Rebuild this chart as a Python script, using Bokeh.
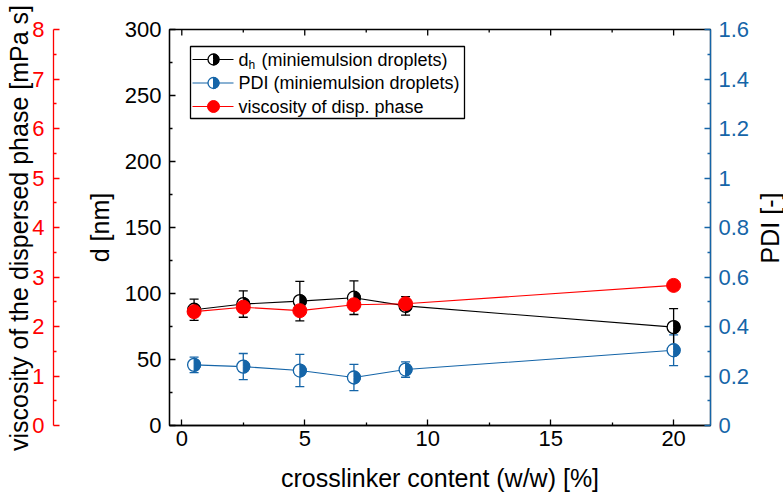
import math
from bokeh.plotting import figure
from bokeh.models import (Range1d, LinearAxis, FixedTicker, ColumnDataSource,
                          Whisker, TeeHead, Label)
from bokeh.core.properties import value
from bokeh.embed import file_html
from bokeh.resources import INLINE

# ---------------- data ----------------
X = [0.5, 2.5, 4.8, 7.0, 9.1, 20.0]
D_H = [87.7, 92.0, 94.2, 96.8, 90.6, 74.5]
D_H_ERR = [8.0, 10.0, 15.0, 12.7, 7.0, 14.0]
PDI = [0.245, 0.238, 0.222, 0.194, 0.226, 0.304]
PDI_ERR = [0.031, 0.053, 0.065, 0.053, 0.031, 0.062]
VISC = [2.30, 2.39, 2.32, 2.44, 2.46, 2.83]
VISC_ERR = [0.05, 0.05, 0.05, 0.05, 0.05, 0.10]

X_TICKS = [0, 5, 10, 15, 20]
X_MINOR = [2.5, 7.5, 12.5, 17.5]
D_TICKS = [0, 50, 100, 150, 200, 250, 300]
D_MINOR = [25, 75, 125, 175, 225, 275]
VISC_TICKS = [0, 1, 2, 3, 4, 5, 6, 7, 8]
VISC_MINOR = [0.5, 1.5, 2.5, 3.5, 4.5, 5.5, 6.5, 7.5]
PDI_TICKS = [0, 0.2, 0.4, 0.6, 0.8, 1.0, 1.2, 1.4, 1.6]
PDI_LABELS = ["0", "0.2", "0.4", "0.6", "0.8", "1", "1.2", "1.4", "1.6"]
PDI_MINOR = [0.1, 0.3, 0.5, 0.7, 0.9, 1.1, 1.3, 1.5]

X_LABEL = "crosslinker content (w/w) [%]"
D_LABEL = "d [nm]"
VISC_LABEL = "viscosity of the dispersed phase [mPa s]"
PDI_LABEL = "PDI [-]"
LEGEND_LABELS = ["d", "h", "(miniemulsion droplets)",
                 "PDI (miniemulsion droplets)", "viscosity of disp. phase"]

# ---------------- styles ----------------
FONT = "Liberation Sans"
BLACK = "#000000"
BLUE = "#1565A8"
RED = "#FF0000"
TICK_FS = "22px"
LABEL_FS = "25px"
LEG_FS = "18px"

X_MIN, X_MAX = -0.5, 21.5
D_MAX, PDI_MAX, VISC_MAX = 300, 1.6, 8
W, H = 783, 498

# frame geometry (pixels) used for placing legend / side labels / top ticks
FL, FR, FT, FB = 169, 710, 29, 425


def px_x(px):
    return X_MIN + (px - FL) / (FR - FL) * (X_MAX - X_MIN)


def px_y(py):
    return (FB - py) / (FB - FT) * D_MAX


def px_dy(n):
    return n / (FB - FT) * D_MAX


p = figure(width=W, height=H, x_range=Range1d(X_MIN, X_MAX),
           y_range=Range1d(0, D_MAX), output_backend="svg",
           toolbar_location=None, min_border_left=FL, min_border_right=W - FR,
           min_border_top=FT, min_border_bottom=H - FB)
p.extra_y_ranges = {"pdi": Range1d(0, PDI_MAX), "visc": Range1d(0, VISC_MAX)}
p.grid.visible = False
p.outline_line_color = BLACK
p.outline_line_width = 1.3
p.background_fill_color = "white"
p.border_fill_color = "white"


def style_axis(ax, color, label_color=BLACK):
    ax.axis_line_color = color
    ax.axis_line_width = 1.3
    ax.major_tick_line_color = color
    ax.minor_tick_line_color = color
    ax.major_tick_line_width = 1.3
    ax.minor_tick_line_width = 1.3
    ax.major_tick_in = 6
    ax.major_tick_out = 0
    ax.minor_tick_in = 3
    ax.minor_tick_out = 0
    ax.major_label_text_color = color
    ax.major_label_text_font = FONT
    ax.major_label_text_font_size = TICK_FS
    ax.axis_label_text_font = FONT
    ax.axis_label_text_font_size = LABEL_FS
    ax.axis_label_text_font_style = "normal"
    ax.axis_label_text_color = label_color


# x axis
xa = p.xaxis[0]
xa.ticker = FixedTicker(ticks=X_TICKS, minor_ticks=X_MINOR)
style_axis(xa, BLACK)
xa.axis_label = X_LABEL
xa.major_label_standoff = 5
xa.axis_label_standoff = 15

# top mirrored ticks (drawn from the x tick arrays)
p.segment(x0=X_TICKS, x1=X_TICKS, y0=[D_MAX] * len(X_TICKS),
          y1=[D_MAX - px_dy(6)] * len(X_TICKS), line_color=BLACK, line_width=1.3)
p.segment(x0=X_MINOR, x1=X_MINOR, y0=[D_MAX] * len(X_MINOR),
          y1=[D_MAX - px_dy(3)] * len(X_MINOR), line_color=BLACK, line_width=1.3)

# left d axis
da = p.yaxis[0]
da.ticker = FixedTicker(ticks=D_TICKS, minor_ticks=D_MINOR)
style_axis(da, BLACK)
da.axis_label = D_LABEL
da.major_label_standoff = 8
da.axis_label_standoff = 8

# spacer axis between d axis and viscosity axis (invisible tick, no label)
sp = LinearAxis(y_range_name="visc", ticker=FixedTicker(ticks=[4], minor_ticks=[]))
sp.axis_line_color = None
sp.major_tick_line_alpha = 0
sp.minor_tick_line_alpha = 0
sp.major_tick_out = 29
sp.major_tick_in = 0
sp.minor_tick_out = 0
sp.major_label_text_color = None
sp.major_label_standoff = 0
p.add_layout(sp, "left")

# viscosity axis (its title is drawn as a Label, see below)
va = LinearAxis(y_range_name="visc",
                ticker=FixedTicker(ticks=VISC_TICKS, minor_ticks=VISC_MINOR))
style_axis(va, RED)
va.major_label_standoff = 9
p.add_layout(va, "left")

# PDI axis (its title is drawn as a Label, see below)
pa = LinearAxis(y_range_name="pdi",
                ticker=FixedTicker(ticks=PDI_TICKS, minor_ticks=PDI_MINOR))
style_axis(pa, BLUE)
pa.major_label_overrides = {t: l for t, l in zip(PDI_TICKS, PDI_LABELS)}
pa.major_label_standoff = 8
p.add_layout(pa, "right")

# side titles, positioned in the outer slots of the left / right borders
mid_y = (FB - FT) / 2.0 - 0.5
lab_common = dict(x_units="screen", y_units="screen", angle=math.pi / 2,
                  text_font=FONT, text_font_size=LABEL_FS, text_color=BLACK,
                  text_align="center", text_baseline="middle")
p.add_layout(Label(x=17.5, y=mid_y, text=VISC_LABEL, **lab_common), "left")
p.add_layout(Label(x=17, y=mid_y, text=PDI_LABEL, **lab_common), "right")


def half_marker(xs, ys, color, size, range_name="default"):
    p.scatter(xs, ys, size=size, marker="circle", fill_color="white",
              line_color=color, line_width=1.3, y_range_name=range_name)
    p.wedge(xs, ys, radius=size / 2.0, radius_units="screen",
            start_angle=-math.pi / 2, end_angle=math.pi / 2,
            fill_color=color, line_color=color, line_width=1.0,
            y_range_name=range_name)


def series(y, err, color, range_name, full=False):
    src = ColumnDataSource(dict(x=X, y=y,
                                lo=[a - b for a, b in zip(y, err)],
                                hi=[a + b for a, b in zip(y, err)]))
    p.line("x", "y", source=src, line_color=color, line_width=1.1,
           y_range_name=range_name)
    w = Whisker(base="x", lower="lo", upper="hi", source=src,
                y_range_name=range_name, line_color=color, line_width=1.3,
                upper_head=TeeHead(size=9, line_color=color, line_width=1.3),
                lower_head=TeeHead(size=9, line_color=color, line_width=1.3))
    p.add_layout(w)
    if full:
        p.scatter("x", "y", source=src, size=14, marker="circle",
                  fill_color=color, line_color=color, y_range_name=range_name)
    else:
        half_marker(X, y, color, 13, range_name)


series(PDI, PDI_ERR, BLUE, "pdi")
series(D_H, D_H_ERR, BLACK, "default")
series(VISC, VISC_ERR, RED, "visc", full=True)

# ---------------- hand-drawn legend ----------------
LB_L, LB_R, LB_T, LB_B = 190, 464, 46, 118
ROWS = [59, 82.5, 106]
p.quad(left=[px_x(LB_L)], right=[px_x(LB_R)], top=[px_y(LB_T)], bottom=[px_y(LB_B)],
       fill_color="white", line_color=BLACK, line_width=1.3)
cols = [BLACK, BLUE, RED]
for i, (ry, c) in enumerate(zip(ROWS, cols)):
    yy = px_y(ry)
    p.line([px_x(192), px_x(233)], [yy, yy], line_color=c, line_width=1.1)
    if i < 2:
        half_marker([px_x(213)], [yy], c, 11)
    else:
        p.scatter([px_x(213)], [yy], size=12, marker="circle", fill_color=c,
                  line_color=c)

tx = px_x(238)
common = dict(text_font=value(FONT), text_font_size=LEG_FS,
              text_baseline="middle", text_align="left", text_color=BLACK)
p.text([tx], [px_y(ROWS[0])], text=[LEGEND_LABELS[0]], **common)
p.text([tx], [px_y(ROWS[0])], text=[LEGEND_LABELS[1]], x_offset=10, y_offset=5,
       text_font=value(FONT), text_font_size="12px", text_baseline="middle",
       text_align="left", text_color=BLACK)
p.text([tx], [px_y(ROWS[0])], text=[LEGEND_LABELS[2]], x_offset=23, **common)
p.text([tx], [px_y(ROWS[1])], text=[LEGEND_LABELS[3]], **common)
p.text([tx], [px_y(ROWS[2])], text=[LEGEND_LABELS[4]], **common)

open("out.html", "w").write(file_html(p, INLINE))
